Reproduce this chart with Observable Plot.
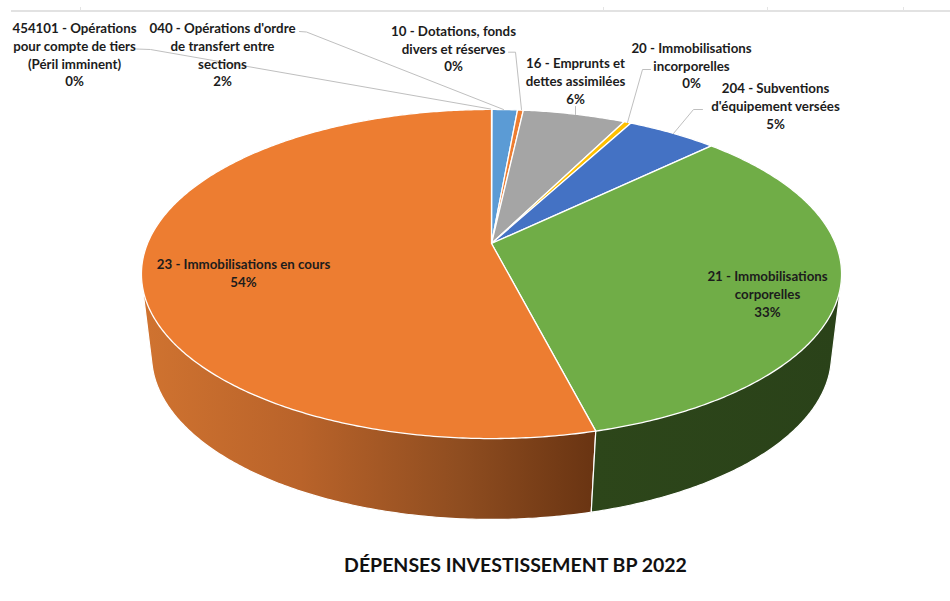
<!DOCTYPE html>
<html lang="fr">
<head>
<meta charset="utf-8">
<script src="https://cdn.jsdelivr.net/npm/d3@7"></script>
<script src="https://cdn.jsdelivr.net/npm/@observablehq/plot@0.6"></script>
<style>
  html, body { margin: 0; background: #fff; }
  svg { display: block; }
  #title { font: 700 19.5px Lato, sans-serif; color: #111; text-align: center;
           width: 1031px; height: 56px; line-height: 40px; white-space: nowrap; }
</style>
</head>
<body>
<div id="chart"></div>
<div id="title"></div>
<script>
const chartTitle = "DÉPENSES INVESTISSEMENT BP 2022";
const categories = [
  "454101 - Opérations\npour compte de tiers\n(Péril imminent)",
  "040 - Opérations d'ordre\nde transfert entre\nsections",
  "10 - Dotations, fonds\ndivers et réserves",
  "16 - Emprunts et\ndettes assimilées",
  "20 - Immobilisations\nincorporelles",
  "204 - Subventions\nd'équipement versées",
  "21 - Immobilisations\ncorporelles",
  "23 - Immobilisations en cours"
];
const shares = [0.03, 1.4, 0.32, 5.67, 0.4, 5, 33.18, 54];
const percents = [0, 2, 0, 6, 0, 5, 33, 54];
const colors = ["#d9d9d9", "#5B9BD5", "#ED7D31", "#A5A5A5", "#FFC000", "#4472C4", "#70AD47", "#ED7D31"];

// Layout of the labels and their leader lines (page pixels)
const labelX = [74, 222, 453, 575, 691, 775, 767, 243];
const labelY = [53.5, 53.5, 47.5, 80, 64.5, 105, 293, 272];
const leaders = [
  [[136, 48.5], [150, 49], [490, 108.5]],
  [[299, 31], [306, 31.5], [503, 109]],
  [[508, 51.7], [515, 51.7], [521, 109]],
  [[575, 106], [575, 114]],
  [[650, 69], [642, 69], [627, 122]],
  [[702, 109], [693, 109], [673, 133]]
];
const gridLine = 10.5;
const gridTicks = [80, 603, 767, 903];

// 3D disc: perspective projection of the top and bottom circles
const top3d = {cx: 491, cy: 243, R: 344, a: 158.9, k: 0.1854};
const bot3d = {cx: 491, cy: 327, R: 335, a: 159.3, k: 0.17};
const project = (p, t) => {
  const X = Math.sin(t), Y = -Math.cos(t), d = 1 - p.k * Y;
  return [p.cx + p.R * X / d, p.cy + p.a * Y / d];
};
const arcPts = (p, t0, t1) => {
  const n = Math.max(2, Math.ceil((t1 - t0) / 0.01));
  return d3.range(n + 1).map(i => project(p, t0 + (t1 - t0) * i / n));
};

const arcs = d3.pie().sort(null).value(d => d)(shares);
const faces = arcs.map(a => {
  const rim = arcPts(top3d, a.startAngle, a.endAngle);
  const c = [top3d.cx, top3d.cy];
  return [c, ...rim, c];
});
const wallOf = i => {
  const a = arcs[i];
  const h = d3.polygonHull([...arcPts(top3d, a.startAngle, a.endAngle), ...arcPts(bot3d, a.startAngle, a.endAngle)]);
  return [...h, h[0]];
};

const W = 950, H = 545;
const gradients = () => {
  const defs = d3.create("svg:defs");
  const mk = (id, stops) => {
    const g = defs.append("linearGradient").attr("id", id);
    stops.forEach(([o, c]) => g.append("stop").attr("offset", o).attr("stop-color", c));
  };
  mk("wall-orange", [[0, "#d07330"], [0.35, "#b9632a"], [0.7, "#8f4d20"], [1, "#693412"]]);
  mk("wall-green", [[0, "#2d461a"], [1, "#2a4219"]]);
  return defs.node();
};

const polyMark = (pts, fill, sw) => Plot.line(pts, {
  x: d => d[0], y: d => d[1], fill, stroke: "#fff", strokeWidth: sw, strokeLinejoin: "round"
});

const plot = Plot.plot({
  width: W, height: H, margin: 0,
  x: {domain: [0, W], range: [0, W], axis: null},
  y: {domain: [H, 0], range: [H, 0], axis: null},
  style: {background: "#fff"},
  marks: [
    gradients,
    Plot.ruleY([gridLine], {x1: 11, x2: W, stroke: "#d9d9d9", strokeWidth: 1.5}),
    Plot.ruleX(gridTicks, {y1: 7, y2: gridLine, stroke: "#e4e4e4", strokeWidth: 1}),
    polyMark(wallOf(7), "url(#wall-orange)", 1.2),
    polyMark(wallOf(6), "url(#wall-green)", 1.2),
    ...faces.map((f, i) => polyMark(f, colors[i], 1.3)),
    ...leaders.map(l => Plot.line(l, {x: d => d[0], y: d => d[1], stroke: "#bfbfbf", strokeWidth: 1})),
    Plot.text(categories.map((c, i) => ({
      text: c + "\n" + percents[i] + "%", x: labelX[i], y: labelY[i]
    })), {
      x: "x", y: "y", text: "text", lineHeight: 1.33, fontSize: 13.3,
      fontFamily: "Lato, sans-serif", fontWeight: 700, fill: "#1c1c1c", textAnchor: "middle"
    })
  ]
});
document.getElementById("chart").append(plot);
document.getElementById("title").textContent = chartTitle;
</script>
</body>
</html>
